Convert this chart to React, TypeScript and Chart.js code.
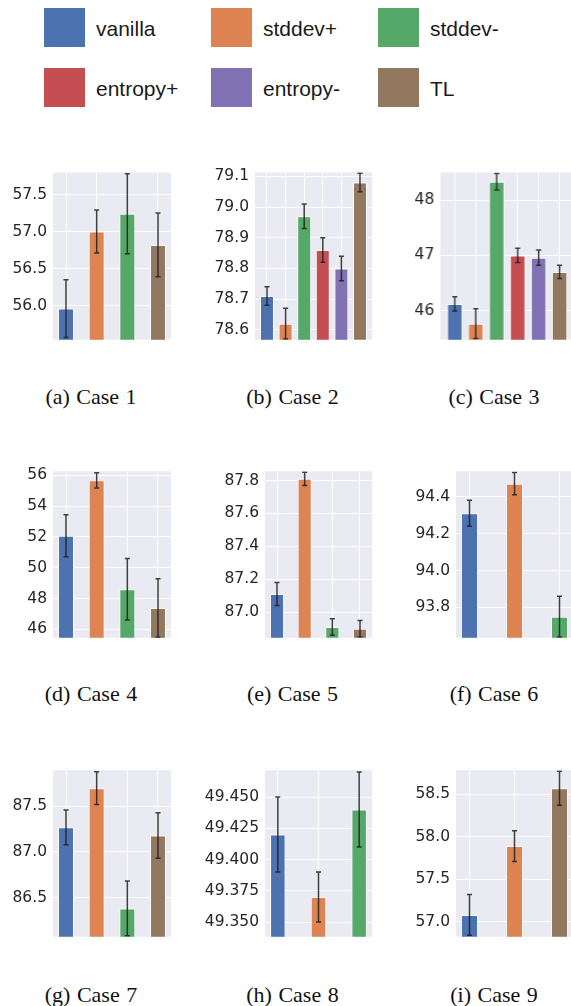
import React, { useEffect, useRef } from "react";
import { Chart, registerables } from "chart.js";

Chart.register(...registerables);

// ---------- legend / colours ----------
const METHODS = ["vanilla", "stddev+", "stddev-", "entropy+", "entropy-", "TL"];
const COLORS = ["#4C72B0", "#DD8452", "#55A868", "#C44E52", "#8172B3", "#937860"];

// ---------- data ----------
const case1Methods = ["vanilla", "stddev+", "stddev-", "TL"];
const case1Means = [55.96, 57.0, 57.24, 56.82];
const case1Errors = [0.39, 0.29, 0.54, 0.43];
const case1Ticks = [56.0, 56.5, 57.0, 57.5];
const case1Range = [55.54, 57.8];

const case2Methods = ["vanilla", "stddev+", "stddev-", "entropy+", "entropy-", "TL"];
const case2Means = [78.71, 78.62, 78.97, 78.86, 78.8, 79.08];
const case2Errors = [0.03, 0.05, 0.04, 0.04, 0.04, 0.03];
const case2Ticks = [78.6, 78.7, 78.8, 78.9, 79.0, 79.1];
const case2Range = [78.568, 79.113];

const case3Methods = ["vanilla", "stddev+", "stddev-", "entropy+", "entropy-", "TL"];
const case3Means = [46.12, 45.76, 48.34, 47.0, 46.96, 46.7];
const case3Errors = [0.13, 0.27, 0.15, 0.13, 0.14, 0.12];
const case3Ticks = [46, 47, 48];
const case3Range = [45.47, 48.51];

const case4Methods = ["vanilla", "stddev+", "stddev-", "TL"];
const case4Means = [52.08, 55.68, 48.6, 47.38];
const case4Errors = [1.37, 0.5, 2.0, 1.9];
const case4Ticks = [46, 48, 50, 52, 54, 56];
const case4Range = [45.45, 56.27];

const case5Methods = ["vanilla", "stddev+", "stddev-", "TL"];
const case5Means = [87.11, 87.81, 86.91, 86.9];
const case5Errors = [0.07, 0.04, 0.05, 0.05];
const case5Ticks = [87.0, 87.2, 87.4, 87.6, 87.8];
const case5Range = [86.845, 87.856];

const case6Methods = ["vanilla", "stddev+", "stddev-"];
const case6Means = [94.31, 94.47, 93.75];
const case6Errors = [0.07, 0.06, 0.11];
const case6Ticks = [93.8, 94.0, 94.2, 94.4];
const case6Range = [93.636, 94.537];

const case7Methods = ["vanilla", "stddev+", "stddev-", "TL"];
const case7Means = [87.27, 87.7, 86.38, 87.18];
const case7Errors = [0.19, 0.18, 0.3, 0.25];
const case7Ticks = [86.5, 87.0, 87.5];
const case7Range = [86.07, 87.896];

const case8Methods = ["vanilla", "stddev+", "stddev-"];
const case8Means = [49.42, 49.37, 49.44];
const case8Errors = [0.03, 0.02, 0.03];
const case8Ticks = [49.35, 49.375, 49.4, 49.425, 49.45];
const case8Range = [49.3383, 49.4714];

const case9Methods = ["vanilla", "stddev+", "TL"];
const case9Means = [57.08, 57.89, 58.57];
const case9Errors = [0.24, 0.18, 0.2];
const case9Ticks = [57.0, 57.5, 58.0, 58.5];
const case9Range = [56.824, 58.782];

const CAPTIONS = ["(a) Case 1", "(b) Case 2", "(c) Case 3", "(d) Case 4", "(e) Case 5", "(f) Case 6", "(g) Case 7", "(h) Case 8", "(i) Case 9"];

// ---------- layout ----------
const AXIS_W = 70;
const ROW_TOP = [157, 456, 755];
const ROW_H = [198, 197, 197];
const CAPTION_TOP = [386, 683, 984];
const CAPTION_X = [91, 292.5, 494];

type Panel = {
  methods: string[];
  means: number[];
  errors: number[];
  ticks: number[];
  range: number[];
  decimals: number;
  left: number;
  right: number;
  row: number;
  col: number;
  margin: number;
  bar: number;
};

const PANELS: Panel[] = [
  { methods: case1Methods, means: case1Means, errors: case1Errors, ticks: case1Ticks, range: case1Range, decimals: 1, left: 53, right: 171, row: 0, col: 0, margin: 0.424, bar: 0.52 },
  { methods: case2Methods, means: case2Means, errors: case2Errors, ticks: case2Ticks, range: case2Range, decimals: 1, left: 255, right: 372, row: 0, col: 1, margin: 0.645, bar: 0.75 },
  { methods: case3Methods, means: case3Means, errors: case3Errors, ticks: case3Ticks, range: case3Range, decimals: 0, left: 440, right: 573.5, row: 0, col: 2, margin: 0.69, bar: 0.74 },
  { methods: case4Methods, means: case4Means, errors: case4Errors, ticks: case4Ticks, range: case4Range, decimals: 0, left: 53, right: 171, row: 1, col: 0, margin: 0.424, bar: 0.52 },
  { methods: case5Methods, means: case5Means, errors: case5Errors, ticks: case5Ticks, range: case5Range, decimals: 1, left: 265, right: 372, row: 1, col: 1, margin: 0.434, bar: 0.51 },
  { methods: case6Methods, means: case6Means, errors: case6Errors, ticks: case6Ticks, range: case6Range, decimals: 1, left: 456, right: 573, row: 1, col: 2, margin: 0.3, bar: 0.38 },
  { methods: case7Methods, means: case7Means, errors: case7Errors, ticks: case7Ticks, range: case7Range, decimals: 1, left: 53, right: 171, row: 2, col: 0, margin: 0.424, bar: 0.52 },
  { methods: case8Methods, means: case8Means, errors: case8Errors, ticks: case8Ticks, range: case8Range, decimals: 3, left: 265, right: 372, row: 2, col: 1, margin: 0.315, bar: 0.38 },
  { methods: case9Methods, means: case9Means, errors: case9Errors, ticks: case9Ticks, range: case9Range, decimals: 1, left: 456, right: 573, row: 2, col: 2, margin: 0.3, bar: 0.38 },
];

const colorOf = (m: string) => COLORS[METHODS.indexOf(m)];

function PanelChart({ p }: { p: Panel }) {
  const ref = useRef<HTMLCanvasElement>(null);
  const w = AXIS_W + (p.right - p.left);
  const h = ROW_H[p.row];
  useEffect(() => {
    if (!ref.current) return;
    const n = p.means.length;
    const bgPlugin = {
      id: "bg",
      beforeDraw(chart: any) {
        const { ctx, chartArea } = chart;
        ctx.save();
        ctx.fillStyle = "#EAEAF2";
        ctx.fillRect(chartArea.left, chartArea.top, chartArea.right - chartArea.left, chartArea.bottom - chartArea.top);
        ctx.restore();
      },
    };
    const errPlugin = {
      id: "err",
      afterDatasetsDraw(chart: any) {
        const { ctx, chartArea, scales } = chart;
        ctx.save();
        ctx.beginPath();
        ctx.rect(chartArea.left, chartArea.top, chartArea.right - chartArea.left, chartArea.bottom - chartArea.top);
        ctx.clip();
        ctx.strokeStyle = "rgba(30,30,30,0.85)";
        ctx.lineWidth = 1.5;
        p.means.forEach((m, i) => {
          const x = scales.x.getPixelForValue(i);
          const y1 = scales.y.getPixelForValue(m + p.errors[i]);
          const y2 = scales.y.getPixelForValue(m - p.errors[i]);
          ctx.beginPath();
          ctx.moveTo(x, y1);
          ctx.lineTo(x, y2);
          ctx.moveTo(x - 2.5, y1);
          ctx.lineTo(x + 2.5, y1);
          ctx.moveTo(x - 2.5, y2);
          ctx.lineTo(x + 2.5, y2);
          ctx.stroke();
        });
        ctx.restore();
      },
    };
    const chart = new Chart(ref.current, {
      type: "bar",
      data: {
        datasets: [
          {
            data: p.means.map((m, i) => ({ x: i, y: m })),
            backgroundColor: p.methods.map(colorOf),
            borderColor: "rgba(255,255,255,0.85)",
            borderWidth: 1,
            categoryPercentage: 1,
            barPercentage: p.bar,
          } as any,
        ],
      },
      options: {
        responsive: false,
        maintainAspectRatio: false,
        animation: false,
        layout: { padding: 0 },
        plugins: { legend: { display: false }, tooltip: { enabled: false } },
        scales: {
          x: {
            type: "linear",
            min: -p.margin,
            max: n - 1 + p.margin,
            offset: false,
            afterBuildTicks: (s: any) => {
              s.ticks = p.means.map((_, i) => ({ value: i }));
            },
            afterFit: (s: any) => {
              s.height = 0;
            },
            ticks: { display: false },
            grid: { color: "#FFFFFF", lineWidth: 1, drawTicks: false, offset: false },
            border: { display: false },
          },
          y: {
            type: "linear",
            min: p.range[0],
            max: p.range[1],
            afterBuildTicks: (s: any) => {
              s.ticks = p.ticks.map((v) => ({ value: v }));
            },
            afterFit: (s: any) => {
              s.width = AXIS_W;
            },
            ticks: {
              callback: (v: any) => Number(v).toFixed(p.decimals),
              font: { family: "'DejaVu Sans'", size: 15.5 },
              color: "#262626",
              padding: 6,
            },
            grid: { color: "#FFFFFF", lineWidth: 1, drawTicks: false },
            border: { display: false },
          },
        },
      } as any,
      plugins: [bgPlugin, errPlugin],
    });
    return () => chart.destroy();
  }, []);
  return (
    <canvas
      ref={ref}
      width={w}
      height={h}
      style={{ position: "absolute", left: p.left - AXIS_W, top: ROW_TOP[p.row], width: w, height: h }}
    />
  );
}

const LEGEND_COL_X = [44, 211, 378];
const LEGEND_ROW_Y = [8, 68];

export default function App() {
  return (
    <div style={{ position: "absolute", left: 0, top: 0, width: 571, height: 1006, overflow: "hidden", background: "#fff" }}>
      {METHODS.map((m, i) => {
        const col = i % 3;
        const row = Math.floor(i / 3);
        return (
          <React.Fragment key={m}>
            <div
              style={{
                position: "absolute",
                left: LEGEND_COL_X[col],
                top: LEGEND_ROW_Y[row],
                width: 41,
                height: 39,
                background: COLORS[i],
              }}
            />
            <div
              style={{
                position: "absolute",
                left: LEGEND_COL_X[col] + 52,
                top: LEGEND_ROW_Y[row] + 10,
                font: "21px 'Liberation Sans'",
                lineHeight: "21px",
                color: "#1a1a1a",
                whiteSpace: "nowrap",
              }}
            >
              {m}
            </div>
          </React.Fragment>
        );
      })}
      {PANELS.map((p, i) => (
        <PanelChart key={i} p={p} />
      ))}
      {CAPTIONS.map((c, i) => {
        const row = Math.floor(i / 3);
        const col = i % 3;
        return (
          <div
            key={c}
            style={{
              position: "absolute",
              left: CAPTION_X[col] - 80,
              width: 160,
              top: CAPTION_TOP[row],
              textAlign: "center",
              font: "22px 'Liberation Serif'",
              lineHeight: "22px",
              wordSpacing: "1px",
              color: "#111",
              whiteSpace: "nowrap",
            }}
          >
            {c}
          </div>
        );
      })}
    </div>
  );
}
